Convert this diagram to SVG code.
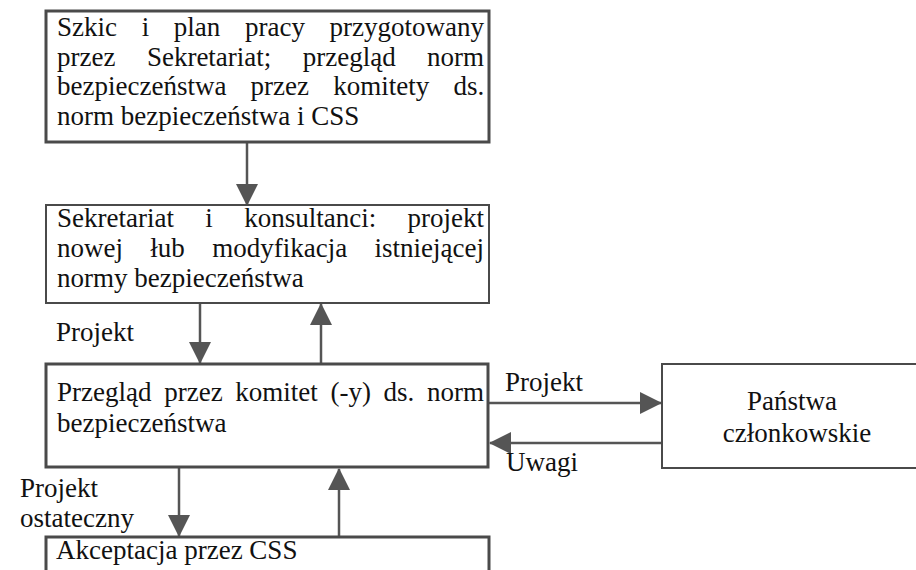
<svg xmlns="http://www.w3.org/2000/svg" width="916" height="570" viewBox="0 0 916 570">
<defs>
<style>
text{font-size:27px;fill:#111}
.box{fill:#fff;stroke:#4a4a4a}
.thick{stroke-width:3}
.thin{stroke-width:2}
.conn{stroke:#555;stroke-width:2.5;fill:none;marker-end:url(#ah)}
</style>
<marker id="ah" markerUnits="userSpaceOnUse" markerWidth="22" markerHeight="22" viewBox="0 0 22 22" refX="21" refY="11" orient="auto">
<path d="M0,0 L22,11 L0,22 Z" fill="#555"/>
</marker>
</defs>
<rect width="916" height="570" fill="#fff"/>
<g id="connectors">
<path class="conn" d="M247,143 V205"/>
<path class="conn" d="M200,304 V363"/>
<path class="conn" d="M321,364 V304"/>
<path class="conn" d="M489,403 H661"/>
<path class="conn" d="M662,443 H490"/>
<path class="conn" d="M179,468 V536"/>
<path class="conn" d="M339,537 V469"/>
</g>
<g font-family="'Liberation Serif', 'Times New Roman', serif">
<g id="n1">
<rect class="box thick" x="46" y="11" width="443" height="131"/>
<text y="36"><tspan x="57">Szkic</tspan><tspan x="141.7">i</tspan><tspan x="173.8">plan</tspan><tspan x="245">pracy</tspan><tspan x="329.6">przygotowany</tspan></text>
<text y="65.5"><tspan x="57">przez</tspan><tspan x="146.9">Sekretariat;</tspan><tspan x="302.7">przegląd</tspan><tspan x="427.1">norm</tspan></text>
<text y="95"><tspan x="57">bezpieczeństwa</tspan><tspan x="250.6">przez</tspan><tspan x="333.2">komitety</tspan><tspan x="453.4">ds.</tspan></text>
<text x="57" y="124.5">norm bezpieczeństwa i CSS</text>
</g>
<g id="n2">
<rect class="box thin" x="46" y="205" width="443" height="98"/>
<text y="227"><tspan x="57">Sekretariat</tspan><tspan x="205.3">i</tspan><tspan x="244.2">konsultanci:</tspan><tspan x="407.5">projekt</tspan></text>
<text y="257"><tspan x="57">nowej</tspan><tspan x="150.3">łub</tspan><tspan x="212.2">modyfikacja</tspan><tspan x="374.5">istniejącej</tspan></text>
<text x="57" y="287">normy bezpieczeństwa</text>
</g>
<text id="l1" x="56" y="341">Projekt</text>
<g id="n3">
<rect class="box thick" x="46" y="364" width="442" height="103"/>
<text y="401"><tspan x="57">Przegląd</tspan><tspan x="164.2">przez</tspan><tspan x="235.3">komitet</tspan><tspan x="330.5">(-y)</tspan><tspan x="383.6">ds.</tspan><tspan x="427.1">norm</tspan></text>
<text x="57" y="432">bezpieczeństwa</text>
</g>
<text id="l2" x="505" y="391">Projekt</text>
<text id="l3" x="506" y="471">Uwagi</text>
<g id="n4">
<rect class="box thin" x="662" y="364" width="270" height="104"/>
<text x="792" y="410" text-anchor="middle">Państwa</text>
<text x="797" y="442" text-anchor="middle">członkowskie</text>
</g>
<text id="l4" x="20" y="497">Projekt</text>
<text id="l5" x="20" y="527">ostateczny</text>
<g id="n5">
<rect class="box thick" x="46" y="537" width="443" height="60"/>
<text x="56" y="559">Akceptacja przez CSS</text>
</g>
</g>
</svg>
